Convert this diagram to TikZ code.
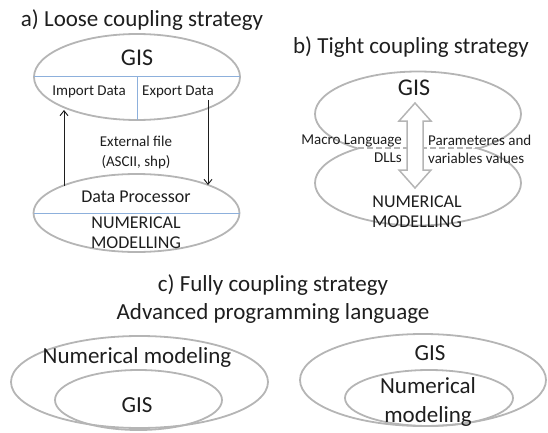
\documentclass[tikz,border=0pt]{standalone}
\usepackage{fontspec}
\setmainfont{Carlito}
\usetikzlibrary{arrows.meta,positioning,shapes.geometric}

\definecolor{rim}{HTML}{B5B5B5}
\definecolor{split}{HTML}{8DB0DC}
\definecolor{ink}{HTML}{1E1E1E}

\begin{document}
\begin{tikzpicture}[x=1pt, y=-1pt,
  blob/.style={draw=rim, line width=1.8pt, ellipse, inner sep=0pt, outer sep=0pt},
  head/.style={font=\fontsize{23}{29}\selectfont, text=ink, inner sep=0pt, align=center},
  big/.style={font=\fontsize{24}{28}\selectfont, text=ink, inner sep=0pt},
  mid/.style={font=\fontsize{18}{20}\selectfont, text=ink, inner sep=0pt, align=center},
  small/.style={font=\fontsize{15}{18}\selectfont, text=ink, inner sep=0pt},
  divider/.style={draw=split, line width=1pt},
  flow/.style={-{Straight Barb[length=5pt,width=8pt]}, line width=0.9pt, draw=ink},
  pinch/.style={draw=rim, line width=1.5pt, dashed, dash pattern=on 6pt off 3pt},
]
  \useasboundingbox (0,0) rectangle (548,433);

  % a) loose coupling
  \node[head] (titleA) at (142,20) {a) Loose coupling strategy};
  \node[blob, minimum width=206, minimum height=86] (gisA) at (137,77) {};
  \node[blob, minimum width=206, minimum height=78] (procA) at (136.5,213) {};
  \draw[divider] (gisA.west) -- (gisA.east);
  \draw[divider] (gisA.center) -- (gisA.south);
  \draw[divider] (procA.west) -- (procA.east);

  \node[big] (gisAtxt) at (137,58) {GIS};
  \node[small] (import) at (89,92) {Import Data};
  \node[small] (export) at (178,92) {Export Data};
  \node[small, align=center, font=\fontsize{15}{20}\selectfont] (extfile) at (136,153)
    {External file\\(ASCII, shp)};
  \node[mid] (dproc) at (136,197) {Data Processor};
  \node[mid] (numA) at (136,233) {NUMERICAL\\MODELLING};

  \coordinate (upFrom) at (64,186);
  \coordinate (upTo) at (64,110);
  \coordinate (downFrom) at (208,100);
  \coordinate (downTo) at (208,185);
  \draw[flow] (upFrom) -- (upTo);
  \draw[flow] (downFrom) -- (downTo);

  % b) tight coupling
  \node[head] (titleB) at (411,47) {b) Tight coupling strategy};
  \begin{scope}
    \clip (300,55) rectangle (540,148);
    \node[blob, minimum width=206, minimum height=85] (gisB) at (418,114) {};
  \end{scope}
  \begin{scope}
    \clip (300,148) rectangle (540,240);
    \node[blob, minimum width=206, minimum height=85] (numBlob) at (418,183) {};
  \end{scope}
  \coordinate (pinchL) at (358,148);
  \coordinate (pinchR) at (482,148);
  \draw[pinch] (pinchL) -- (pinchR);

  \coordinate (tipT) at (415,103);
  \coordinate (tipB) at (415,188);
  \draw[draw=rim, line width=1.5pt, fill=white, line join=miter] (tipT) -- ++(16,18) -- ++(-8,0)
    -- ++(0,49) -- ++(8,0) -- (tipB) -- ++(-16,-18) -- ++(8,0) -- ++(0,-49) -- ++(-8,0) -- cycle;

  \node[big] (gisBtxt) at (414,88) {GIS};
  \node[small, align=right, anchor=east] (macro) at (402,149) {Macro Language\\DLLs};
  \node[small, align=left, anchor=west] (param) at (428,149) {Parameteres and\\variables values};
  \node[mid] (numB) at (417,212) {NUMERICAL\\MODELLING};

  % c) fully coupling
  \node[head] (titleC) at (273,285) {c) Fully coupling strategy};
  \node[head] (lang) at (273,313) {Advanced programming language};

  \node[blob, minimum width=257, minimum height=92] (outL) at (139.5,382) {};
  \node[blob, minimum width=167, minimum height=60] (inL) at (138.5,400) {};
  \node[head] (numL) at (137,357) {Numerical modeling};
  \node[head] (gisL) at (137,405) {GIS};

  \node[blob, minimum width=246, minimum height=92] (outR) at (423,380) {};
  \node[blob, minimum width=168, minimum height=56] (inR) at (429,398) {};
  \node[head] (gisR) at (430,353) {GIS};
  \node[head] (numR) at (428,402) {Numerical\\modeling};
\end{tikzpicture}
\end{document}
